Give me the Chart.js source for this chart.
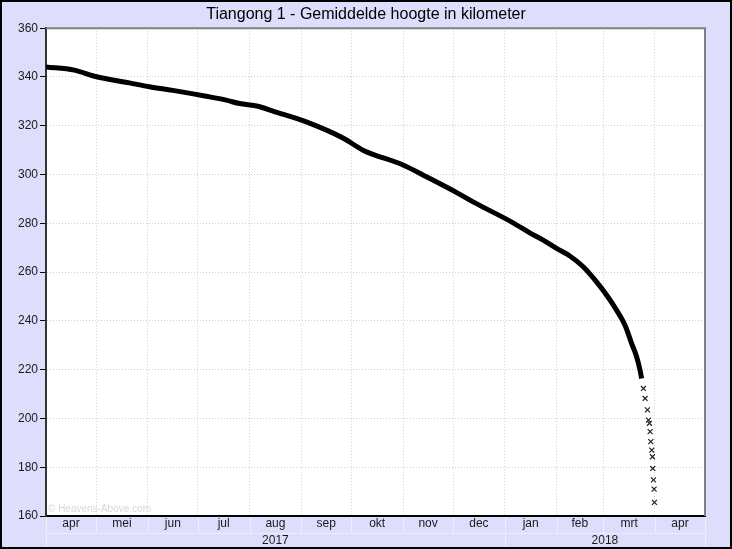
<!doctype html>
<html lang="nl">
  <head>
    <meta charset="utf-8">
    <title>Tiangong 1 - Gemiddelde hoogte</title>
    <style>
      * { margin: 0; padding: 0; }
      body { background: #dedefc; }
      .chartBox { width: 732px; height: 549px; }
    </style>
  </head>
  <body>
    <div class="chartBox"><canvas id="myChart"></canvas></div>
    <script src="https://cdn.jsdelivr.net/npm/chart.js"></script>
    <script>
// days since 1 apr 2017
const monthNames = ['apr','mei','jun','jul','aug','sep','okt','nov','dec','jan','feb','mrt','apr'];
const monthStarts = [0,30,61,91,122,153,183,214,244,275,306,334,365,395];
const yearNames = ['2017','2018'];
const yearStarts = [0,275,395];

// dense part of the curve (km)
const denseDay = [0,17,29,50,62,76,96,108,116,127,136,156,178,190,214,228,247,256,280,290,298,306,314,322,330,336,342,347,351,354,356,357];
const denseAlt = [344.1,342.8,340.3,337.6,336.0,334.5,332.1,330.5,329.1,328.0,326.0,321.6,315.0,310.0,303.9,299.1,292.3,288.8,280.2,276.1,273.1,269.7,266.6,262.2,256.0,250.6,244.4,238.3,230.8,225.3,220.0,216.4];

// last separate measurements
const tailDay = [358.1,359.1,360.5,361.1,361.7,362.1,362.5,363.1,363.5,363.7,364.1,364.5,364.7];
const tailAlt = [212.3,208.2,203.5,199.3,198.0,194.6,190.5,187.0,184.3,179.5,174.8,171.0,165.6];

const FONT = 'Arial, "Liberation Sans", sans-serif';

const bands = {
  id: 'bands',
  beforeDraw(chart) {
    const {ctx, chartArea: a} = chart;
    ctx.save();
    ctx.fillStyle = '#fff';
    ctx.fillRect(a.left, a.top, a.right - a.left, a.bottom - a.top);
    ctx.restore();
  },
  beforeDatasetsDraw(chart) {
    const {ctx, chartArea: a} = chart;
    ctx.save();
    ctx.font = '10px ' + FONT;
    ctx.fillStyle = '#d8d8d8';
    ctx.fillText('\u00a9 Heavens-Above.com', a.left + 2, a.bottom - 4);
    ctx.restore();
  },
  afterDraw(chart) {
    const {ctx, chartArea: a, scales} = chart;
    const x = scales.x;
    const rowTop = a.bottom, rowMid = a.bottom + 17, rowBot = 548;
    ctx.save();
    // top and right plot border
    ctx.strokeStyle = '#808080';
    ctx.lineWidth = 2;
    ctx.beginPath();
    ctx.moveTo(a.left, a.top);
    ctx.lineTo(a.right, a.top);
    ctx.lineTo(a.right, a.bottom);
    ctx.stroke();
    // month row separators
    ctx.strokeStyle = '#eeeef8';
    ctx.lineWidth = 1;
    ctx.beginPath();
    monthStarts.forEach(d => {
      const px = Math.round(x.getPixelForValue(d)) + 0.5;
      ctx.moveTo(px, rowTop + 1);
      ctx.lineTo(px, rowMid);
    });
    ctx.moveTo(a.left, rowMid + 0.5);
    ctx.lineTo(a.right, rowMid + 0.5);
    yearStarts.forEach(d => {
      const px = Math.round(x.getPixelForValue(d)) + 0.5;
      ctx.moveTo(px, rowMid);
      ctx.lineTo(px, rowBot);
    });
    ctx.stroke();
    // labels
    ctx.font = '12px ' + FONT;
    ctx.fillStyle = '#1a1a1a';
    ctx.textAlign = 'center';
    ctx.textBaseline = 'middle';
    monthNames.forEach((m, i) => {
      const c = (x.getPixelForValue(monthStarts[i]) + x.getPixelForValue(monthStarts[i + 1])) / 2;
      ctx.fillText(m, c, rowTop + 8);
    });
    yearNames.forEach((y, i) => {
      const c = (x.getPixelForValue(yearStarts[i]) + x.getPixelForValue(yearStarts[i + 1])) / 2;
      ctx.fillText(y, c, rowMid + 8);
    });
    // outer frame
    ctx.strokeStyle = '#000';
    ctx.lineWidth = 2;
    ctx.strokeRect(1, 1, chart.width - 2, chart.height - 2);
    ctx.restore();
  }
};

const data = {
  datasets: [
    {
      label: 'hoogte',
      data: denseDay.map((d, i) => ({x: d, y: denseAlt[i]})),
      showLine: true,
      borderColor: '#000',
      borderWidth: 5,
      pointRadius: 0,
      cubicInterpolationMode: 'monotone'
    },
    {
      label: 'laatste',
      data: tailDay.map((d, i) => ({x: d, y: tailAlt[i]})),
      showLine: false,
      pointStyle: 'crossRot',
      pointRadius: 3.5,
      borderColor: '#222',
      borderWidth: 1.2
    }
  ]
};

const config = {
  type: 'scatter',
  data,
  plugins: [bands],
  options: {
    animation: false,
    responsive: true,
    maintainAspectRatio: false,
    layout: { padding: { left: 0, top: 0, right: 0, bottom: 33 } },
    plugins: {
      legend: { display: false },
      tooltip: { enabled: false },
      title: {
        display: true,
        text: 'Tiangong 1 - Gemiddelde hoogte in kilometer',
        color: '#000',
        font: { family: FONT, size: 16, weight: 'normal' },
        padding: { top: 5, bottom: 4 }
      }
    },
    scales: {
      x: {
        type: 'linear',
        min: 0,
        max: 395,
        afterBuildTicks: s => { s.ticks = monthStarts.map(v => ({value: v})); },
        afterFit: s => { s.height = 0; s.paddingLeft = 0; s.paddingRight = 0; },
        ticks: { display: false },
        grid: { color: '#cfcfcf', drawTicks: false, tickBorderDash: [] },
        border: { color: '#000', width: 2, dash: [1, 2] }
      },
      y: {
        min: 160,
        max: 360,
        afterFit: s => { s.width = 46; s.paddingTop = 0; s.paddingBottom = 0; },
        ticks: { stepSize: 20, padding: 2, color: '#1a1a1a', font: { family: FONT, size: 12 } },
        grid: { color: '#cfcfcf', tickColor: '#000', tickLength: 6, tickBorderDash: [] },
        border: { color: '#333', width: 2, dash: [1, 2] }
      },
      // empty right margin
      yr: {
        position: 'right',
        min: 160,
        max: 360,
        afterFit: s => { s.width = 27; s.paddingTop = 0; s.paddingBottom = 0; },
        ticks: { display: false },
        grid: { display: false },
        border: { display: false }
      }
    }
  }
};

const myChart = new Chart(document.getElementById('myChart'), config);
    </script>
  </body>
</html>
